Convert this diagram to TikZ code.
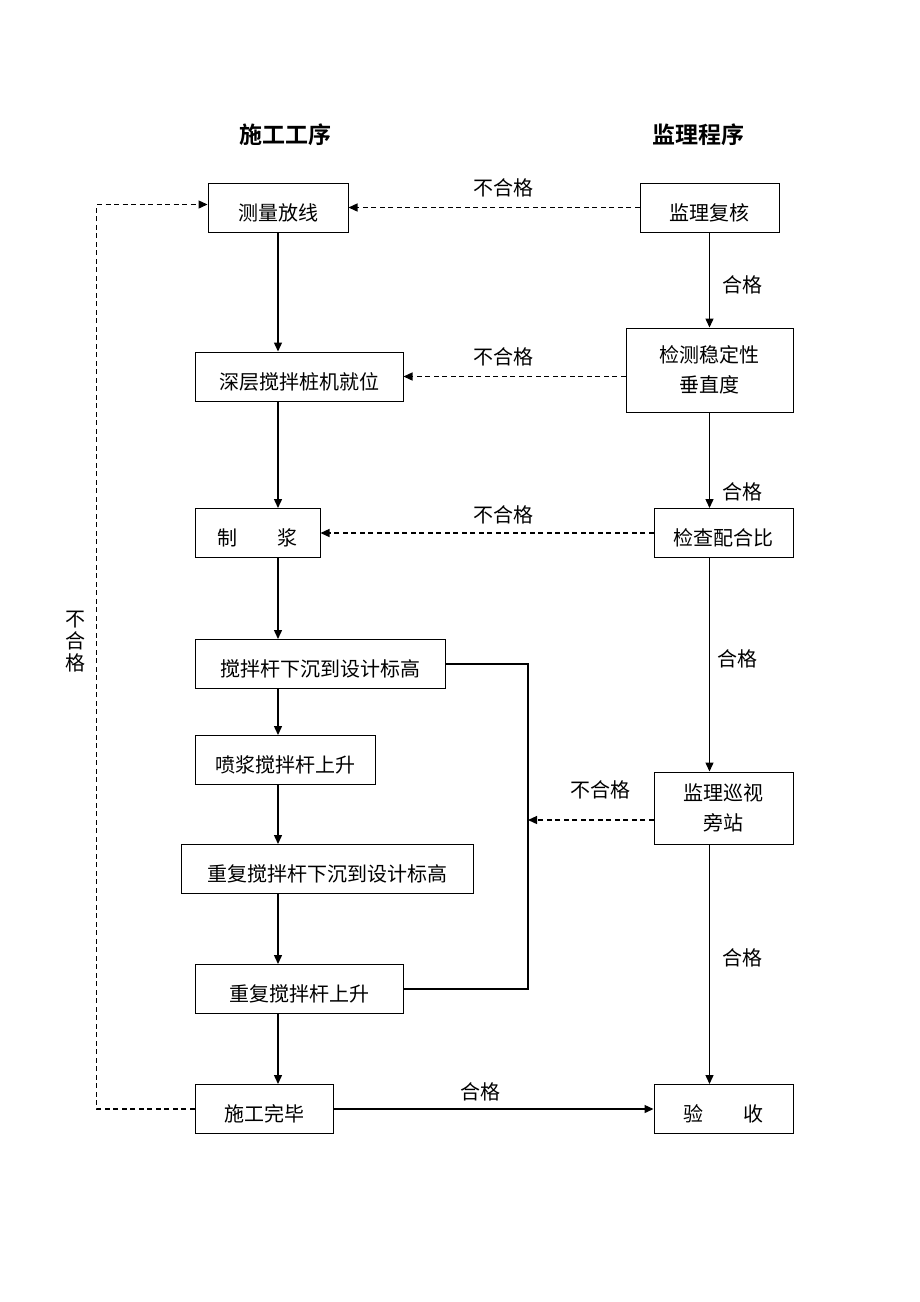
\documentclass[tikz,border=0pt]{standalone}
\usepackage{fontspec}
\setmainfont{Noto Sans CJK SC}[BoldFont={Noto Sans CJK SC Bold}]
\usepackage{tikz}
\usetikzlibrary{arrows.meta}

\begin{document}
\begin{tikzpicture}[x=1pt, y=-1pt, >={Triangle[length=9pt,width=8pt]},
  box/.style={draw, line width=1pt, minimum height=49pt, inner sep=0pt, align=center, font=\fontsize{20}{30}\selectfont},
  single/.style={box, text height=27pt, text depth=2pt},
  lbl/.style={font=\fontsize{20}{24}\selectfont},
  ttl/.style={font=\fontsize{23}{26}\selectfont\bfseries},
  flow/.style={->, line width=1.4pt},
  back/.style={->, line width=1.3pt, dash pattern=on 5pt off 3.5pt}]
\useasboundingbox (0,0) rectangle (920,1302);
\node[ttl] (left title) at (285,135) {施工工序};
\node[ttl] (right title) at (698,135) {监理程序};
% left column
\node[single, minimum width=140pt] (survey) at (278,207.5) {测量放线};
\node[single, minimum width=208pt] (rig) at (299,376.5) {深层搅拌桩机就位};
\node[single, minimum width=125pt] (slurry) at (257.5,533) {制\quad\quad 浆};
\node[single, minimum width=250pt] (sink) at (320,664) {搅拌杆下沉到设计标高};
\node[single, minimum width=180pt] (spray) at (285,760) {喷浆搅拌杆上升};
\node[single, minimum width=292pt] (resink) at (327,869) {重复搅拌杆下沉到设计标高};
\node[single, minimum width=208pt] (relift) at (299,989) {重复搅拌杆上升};
\node[single, minimum width=138pt] (done) at (264,1109) {施工完毕};
% right column
\node[single, minimum width=139pt] (recheck) at (709.5,207.5) {监理复核};
\node[box, minimum width=167pt, minimum height=84pt] (vertical) at (709.5,370) {检测稳定性\\垂直度};
\node[single, minimum width=139pt] (mix) at (723.5,533) {检查配合比};
\node[box, minimum width=139pt, minimum height=72pt] (patrol) at (723.5,808) {监理巡视\\旁站};
\node[single, minimum width=139pt] (accept) at (723.5,1109) {验\quad\quad 收};

\draw[flow] (survey) -- (survey |- rig.north);
\draw[flow] (survey |- rig.south) -- (survey |- slurry.north);
\draw[flow] (survey |- slurry.south) -- (survey |- sink.north);
\draw[flow] (survey |- sink.south) -- (survey |- spray.north);
\draw[flow] (survey |- spray.south) -- (survey |- resink.north);
\draw[flow] (survey |- resink.south) -- (survey |- relift.north);
\draw[flow] (survey |- relift.south) -- (survey |- done.north);

\draw[flow] (recheck) -- (vertical);
\node[lbl] (ok1) at (742,285) {合格};
\draw[flow] (vertical) -- (vertical.south |- mix.north);
\node[lbl] (ok2) at (742,492) {合格};
\draw[flow] (vertical.south |- mix.south) -- (vertical.south |- patrol.north);
\node[lbl] (ok3) at (737,659) {合格};
\draw[flow] (vertical.south |- patrol.south) -- (vertical.south |- accept.north);
\node[lbl] (ok4) at (742,958) {合格};

\draw[flow] (done) -- (accept);
\node[lbl] (ok5) at (480,1092) {合格};

% rejected
\draw[back] (recheck) -- (survey);
\node[lbl] (ng1) at (503,188) {不合格};
\draw[back] (rig.east -| vertical.west) -- (rig.east);
\node[lbl] (ng2) at (503,357) {不合格};
\draw[back] (mix) -- (slurry);
\node[lbl] (ng3) at (503,515) {不合格};
\coordinate (loop) at (528,820);
\draw[line width=1.2pt] (sink.east) -| (loop |- relift.east) -- (relift.east);
\draw[back] (loop -| patrol.west) -- (loop);
\node[lbl] (ng4) at (600,790) {不合格};
\draw[back] (done.west) -- ++(-98,0) |- ([yshift=3pt]survey.west);
\node[lbl, align=center, font=\fontsize{20}{22}\selectfont] (ng5) at (75,642) {不\\合\\格};
\end{tikzpicture}
\end{document}
